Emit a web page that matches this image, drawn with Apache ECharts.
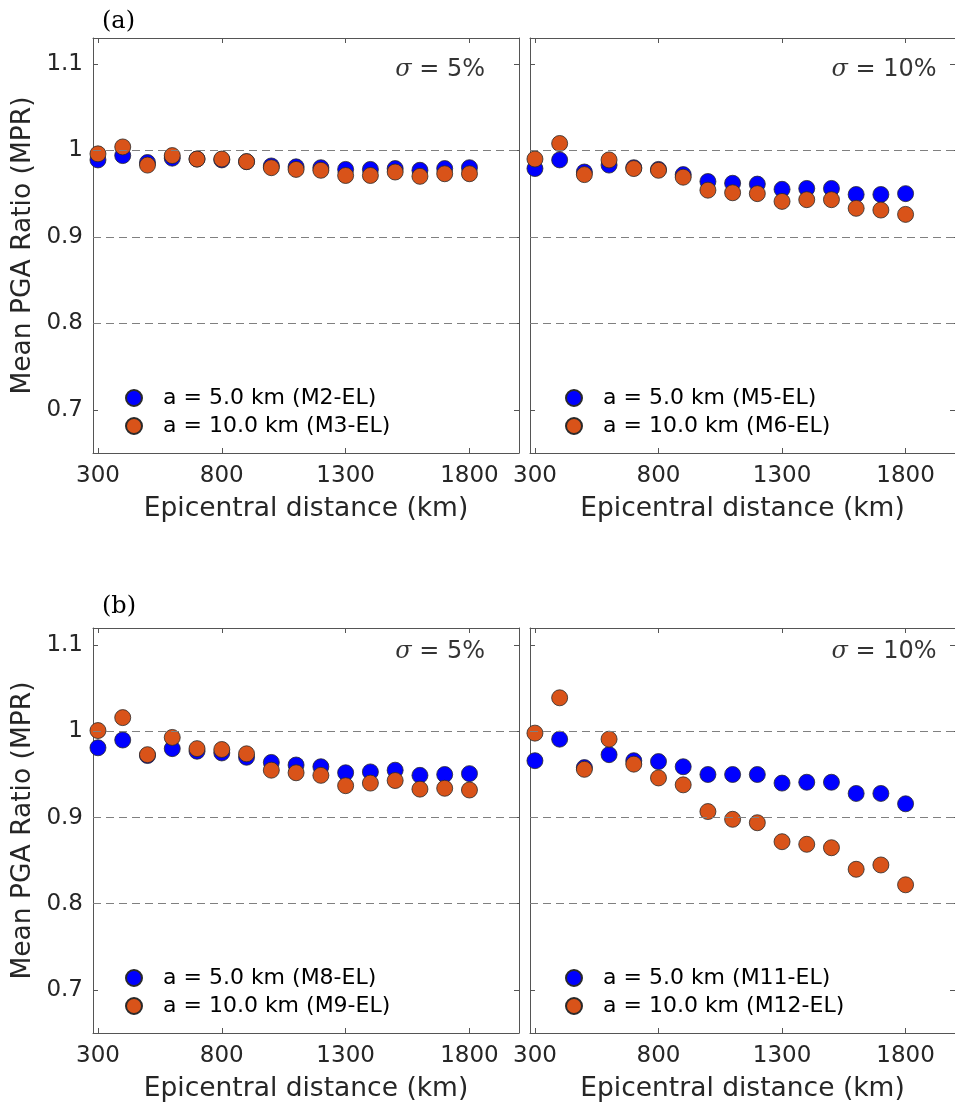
<!DOCTYPE html>
<html>
<head>
<meta charset="utf-8">
<script src="https://cdn.jsdelivr.net/npm/echarts@6/dist/echarts.min.js"></script>
<style>
  html, body { margin: 0; padding: 0; background: #fff; }
  #main { width: 955px; height: 1104px; }
</style>
</head>
<body>
<div id="main"></div>
<script>
// epicentral distances (km)
var distances = [300, 400, 500, 600, 700, 800, 900, 1000, 1100, 1200, 1300, 1400, 1500, 1600, 1700, 1800];

// (a) sigma = 5%
var mprM2 = [0.989, 0.994, 0.986, 0.991, 0.990, 0.989, 0.987, 0.982, 0.981, 0.980, 0.978, 0.978, 0.979, 0.977, 0.979, 0.980];
var mprM3 = [0.996, 1.004, 0.983, 0.994, 0.990, 0.990, 0.987, 0.980, 0.978, 0.977, 0.971, 0.971, 0.975, 0.970, 0.973, 0.973];
// (a) sigma = 10%
var mprM5 = [0.979, 0.989, 0.975, 0.983, 0.980, 0.978, 0.972, 0.964, 0.962, 0.961, 0.955, 0.956, 0.956, 0.949, 0.949, 0.950];
var mprM6 = [0.990, 1.008, 0.972, 0.989, 0.979, 0.977, 0.969, 0.954, 0.951, 0.950, 0.941, 0.943, 0.943, 0.933, 0.931, 0.926];
// (b) sigma = 5%
var mprM8 = [0.981, 0.990, 0.972, 0.980, 0.977, 0.975, 0.970, 0.964, 0.961, 0.959, 0.952, 0.953, 0.955, 0.949, 0.950, 0.951];
var mprM9 = [1.001, 1.016, 0.973, 0.993, 0.980, 0.979, 0.974, 0.955, 0.952, 0.949, 0.937, 0.940, 0.943, 0.933, 0.934, 0.932];
// (b) sigma = 10%
var mprM11 = [0.966, 0.991, 0.958, 0.973, 0.966, 0.965, 0.959, 0.950, 0.950, 0.950, 0.940, 0.941, 0.941, 0.928, 0.928, 0.916];
var mprM12 = [0.998, 1.039, 0.956, 0.991, 0.962, 0.946, 0.938, 0.907, 0.898, 0.894, 0.872, 0.869, 0.865, 0.840, 0.845, 0.822];

var xTicks = [300, 800, 1300, 1800];
var yTicks = [0.7, 0.8, 0.9, 1.0, 1.1];
var refLines = [0.8, 0.9, 1.0];
var sigmaLabels = ['5%', '10%', '5%', '10%'];
var panelLetters = ['(a)', '(b)'];

var panels = [
    { names: ['a = 5.0 km (M2-EL)', 'a = 10.0 km (M3-EL)'], values: [mprM2, mprM3] },
    { names: ['a = 5.0 km (M5-EL)', 'a = 10.0 km (M6-EL)'], values: [mprM5, mprM6] },
    { names: ['a = 5.0 km (M8-EL)', 'a = 10.0 km (M9-EL)'], values: [mprM8, mprM9] },
    { names: ['a = 5.0 km (M11-EL)', 'a = 10.0 km (M12-EL)'], values: [mprM11, mprM12] }
];

var colors = ['#0000ff', '#d95319'];
var textColor = '#262626';
var axisColor = '#555';
var sans = 'DejaVu Sans';

// panel boxes (MATLAB-like layout)
var boxes = [
    { left: 93, top: 38, width: 426, height: 415, ymax: 1.13 },
    { left: 530, top: 38, width: 428, height: 415, ymax: 1.13 },
    { left: 93, top: 628, width: 426, height: 405, ymax: 1.12 },
    { left: 530, top: 628, width: 428, height: 405, ymax: 1.12 }
];

var grid = [], xAxis = [], yAxis = [], series = [], legend = [], title = [];

function pairs(xs, ys) {
    return xs.map(function (x, i) { return [x, ys[i]]; });
}

boxes.forEach(function (b, p) {
    var isLeft = (p % 2 === 0);
    grid.push({ left: b.left, top: b.top, width: b.width, height: b.height });

    var lineStyle = { color: axisColor, width: 1 };
    var tick = { show: true, inside: true, length: 5, lineStyle: lineStyle };

    xAxis.push({
        type: 'value', gridIndex: p, position: 'bottom', min: 280, max: 2000,
        axisLine: { show: true, onZero: false, lineStyle: lineStyle },
        axisTick: Object.assign({ customValues: xTicks }, tick),
        axisLabel: {
            customValues: xTicks, fontSize: 23, fontFamily: sans, color: textColor, margin: 12,
            formatter: function (v) { return String(v); }
        },
        splitLine: { show: false },
        name: 'Epicentral distance (km)', nameLocation: 'middle', nameGap: 43,
        nameTextStyle: { fontSize: 26.5, fontFamily: sans, color: textColor }
    });
    xAxis.push({
        type: 'value', gridIndex: p, position: 'top', min: 280, max: 2000,
        axisLine: { show: true, onZero: false, lineStyle: lineStyle },
        axisTick: Object.assign({ customValues: xTicks }, tick),
        axisLabel: { show: false },
        splitLine: { show: false }
    });
    yAxis.push({
        type: 'value', gridIndex: p, position: 'left', min: 0.65, max: b.ymax,
        axisLine: { show: true, onZero: false, lineStyle: lineStyle },
        axisTick: Object.assign({ customValues: yTicks }, tick),
        axisLabel: { show: isLeft, customValues: yTicks, fontSize: 23, fontFamily: sans, color: textColor, margin: 10 },
        splitLine: { show: false },
        name: isLeft ? 'Mean PGA Ratio (MPR)' : '', nameLocation: 'middle', nameGap: 56,
        nameTextStyle: { fontSize: 26.5, fontFamily: sans, color: textColor }
    });
    yAxis.push({
        type: 'value', gridIndex: p, position: 'right', min: 0.65, max: b.ymax,
        axisLine: { show: true, onZero: false, lineStyle: lineStyle },
        axisTick: Object.assign({ customValues: yTicks }, tick),
        axisLabel: { show: false },
        splitLine: { show: false }
    });

    // dashed reference lines
    series.push({
        type: 'scatter', xAxisIndex: 2 * p, yAxisIndex: 2 * p, data: [], z: 1, silent: true,
        markLine: {
            silent: true, symbol: 'none', label: { show: false }, animation: false,
            lineStyle: { color: '#808080', width: 1.2, type: [8, 5] },
            data: refLines.map(function (v) { return { yAxis: v }; })
        }
    });

    panels[p].names.forEach(function (nm, k) {
        series.push({
            type: 'scatter', name: nm, xAxisIndex: 2 * p, yAxisIndex: 2 * p,
            symbol: 'circle', symbolSize: 16, z: 2 + k,
            itemStyle: { color: colors[k], borderColor: '#2a2a2a', borderWidth: 0.8, opacity: 1 },
            data: pairs(distances, panels[p].values[k])
        });
    });

    // sigma annotation, anchored in data coords
    series.push({
        type: 'scatter', name: 'sigma' + p, xAxisIndex: 2 * p, yAxisIndex: 2 * p,
        symbolSize: 0, silent: true, z: 5,
        data: [[1500, 1.093]],
        label: {
            show: true, position: 'right', distance: 0,
            formatter: '{s|σ}{t| = ' + sigmaLabels[p] + '}',
            rich: {
                s: { fontFamily: 'DejaVu Serif', fontStyle: 'italic', fontSize: 24, color: '#000' },
                t: { fontFamily: sans, fontSize: 24, color: '#000' }
            }
        }
    });

    legend.push({
        orient: 'vertical', left: isLeft ? 125 : 565, top: b.top + b.height - 66,
        padding: 0,
        icon: 'circle', itemWidth: 16, itemHeight: 16, itemGap: 6,
        data: panels[p].names,
        selectedMode: false,
        textStyle: { fontSize: 22, fontFamily: sans, color: '#000', padding: [0, 0, 0, 16] }
    });
});

panelLetters.forEach(function (t, i) {
    title.push({
        text: t, left: 97, top: i === 0 ? 5 : 590,
        textStyle: { fontFamily: 'DejaVu Serif', fontSize: 24, fontWeight: 'normal', color: '#000' }
    });
});

var myChart = echarts.init(document.getElementById('main'));
myChart.setOption({
    backgroundColor: '#fff',
    animation: false,
    title: title,
    grid: grid,
    xAxis: xAxis,
    yAxis: yAxis,
    legend: legend,
    series: series
});
</script>
</body>
</html>
